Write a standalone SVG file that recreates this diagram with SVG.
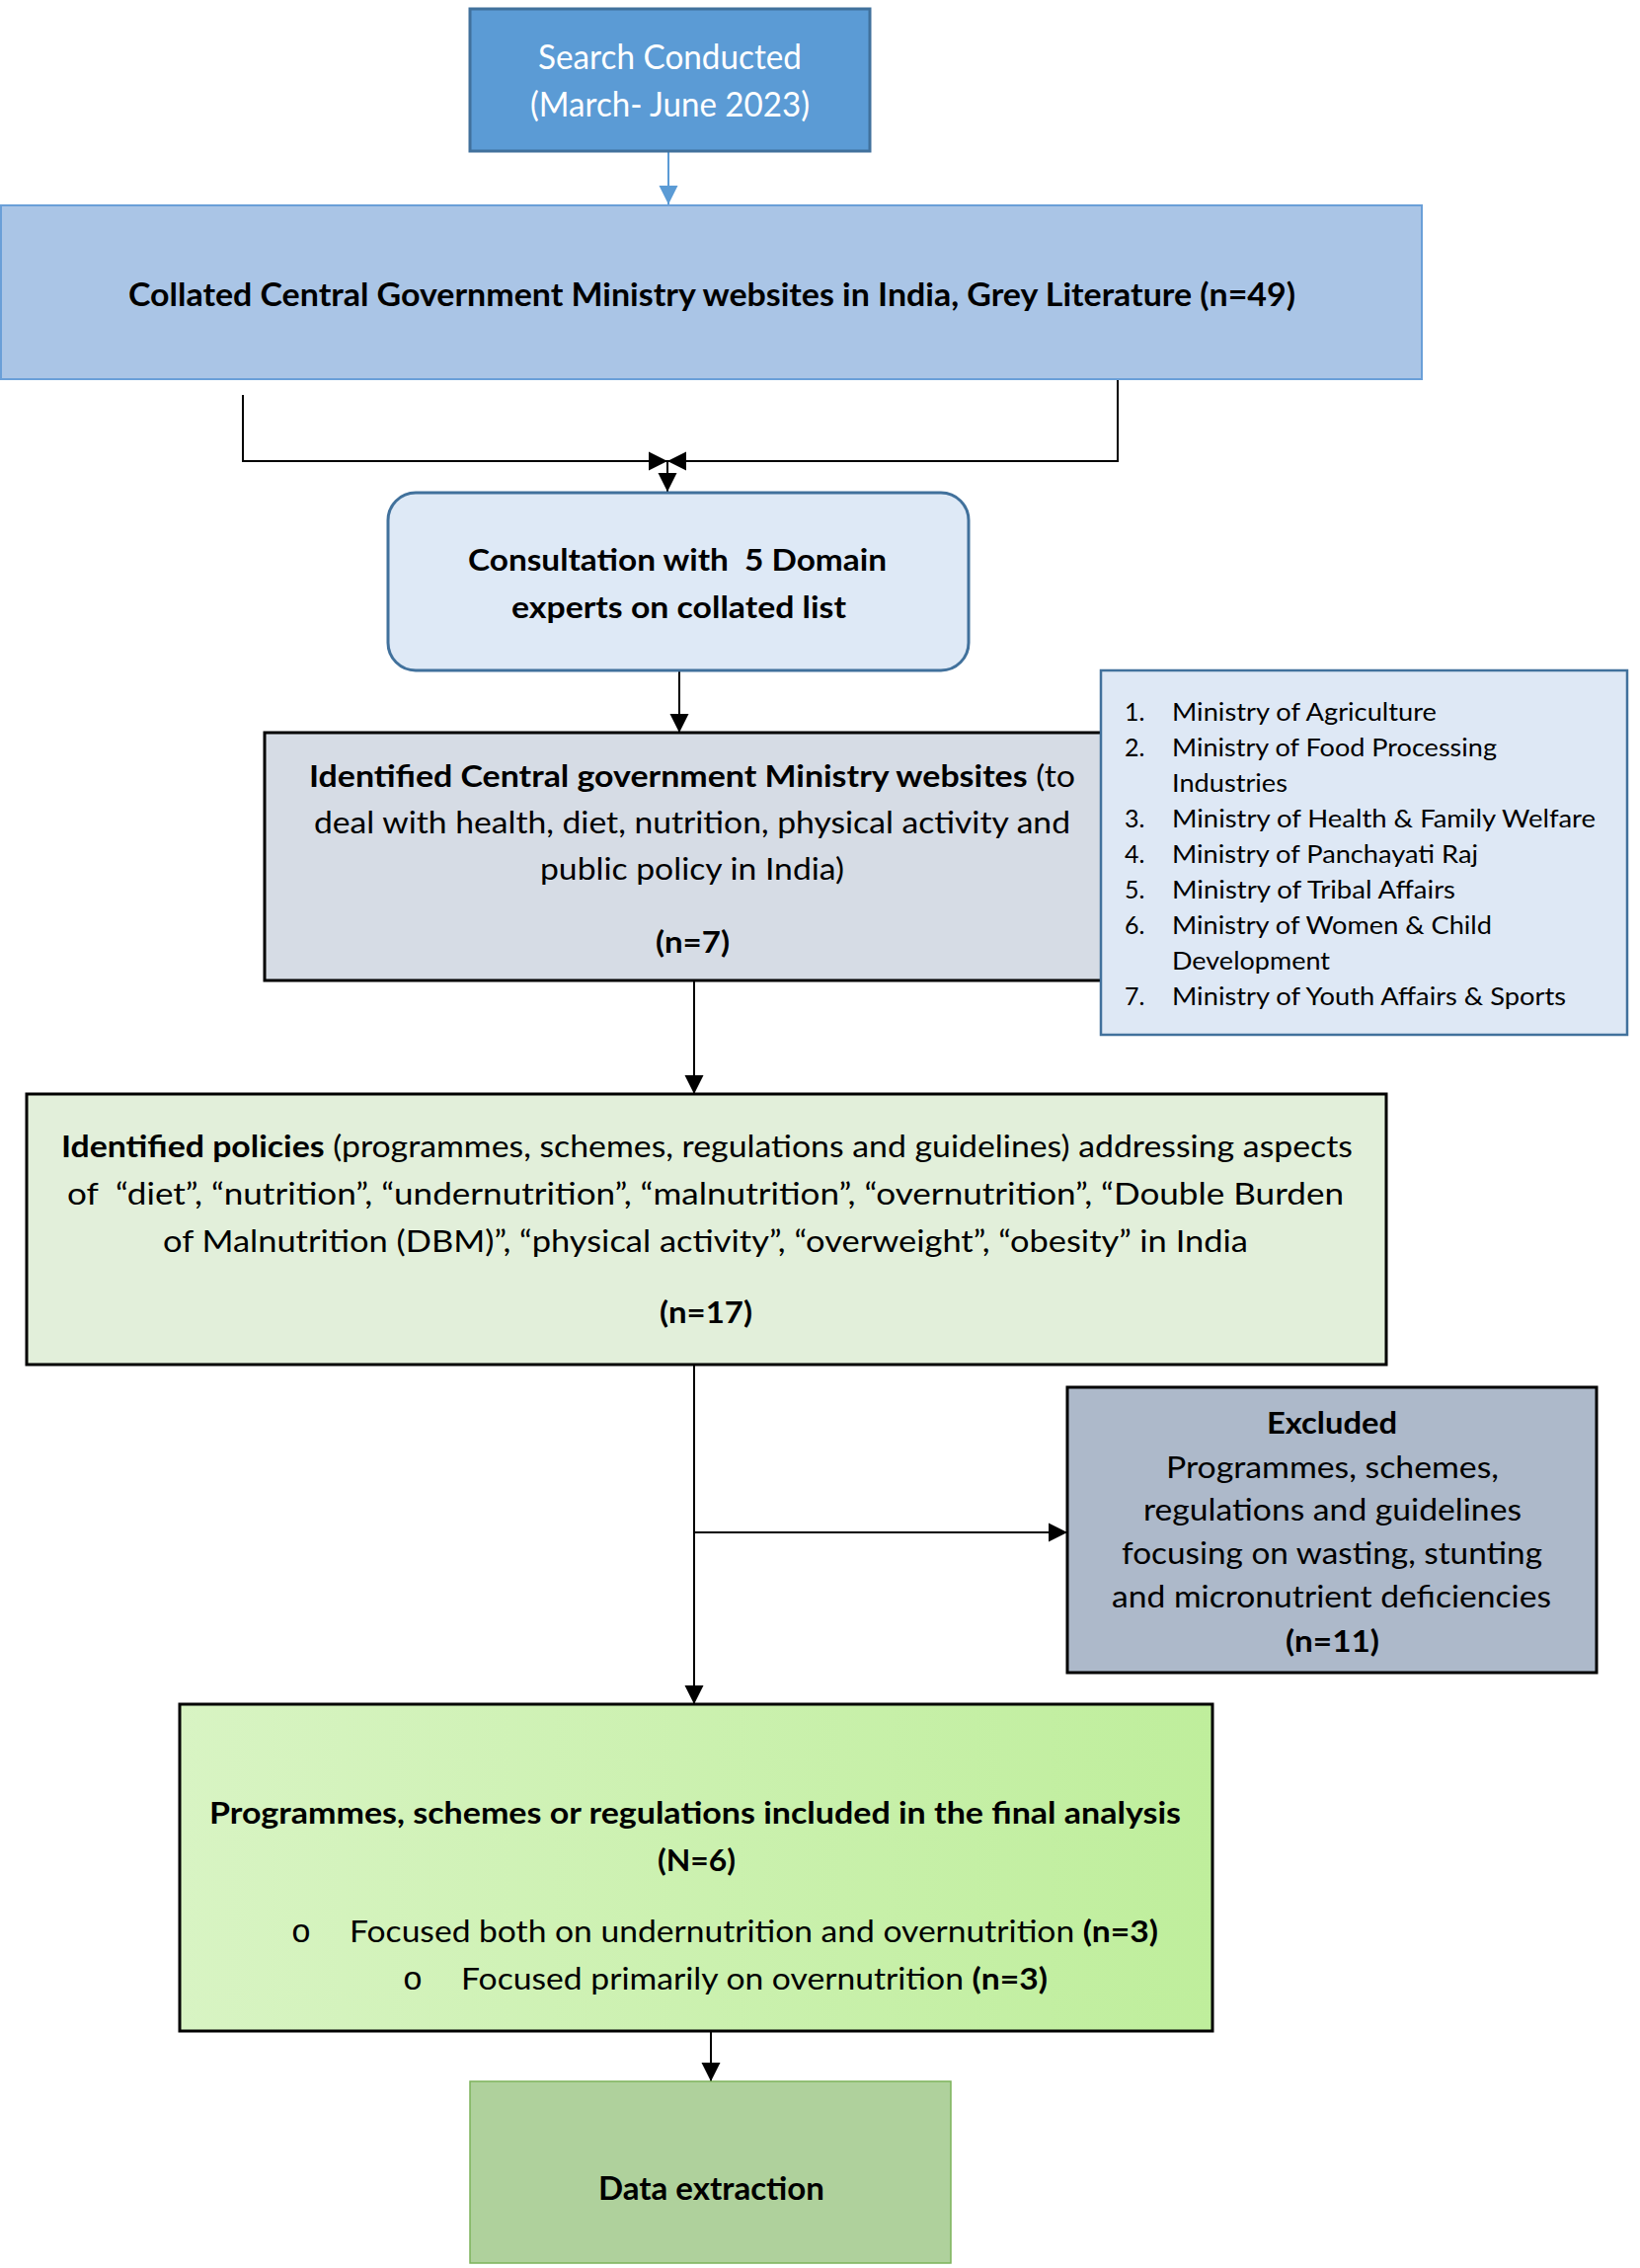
<svg xmlns="http://www.w3.org/2000/svg" width="1661" height="2297" viewBox="0 0 1661 2297">
<style>
text{font-family:Lato,"Noto Sans","Liberation Sans",sans-serif;fill:#000}
.b{font-weight:bold}
.r{font-weight:normal}
.w{fill:#fff}
.conn{fill:none;stroke:#000;stroke-width:2}
.lst{font-size:25px}
.bul{font-family:"Liberation Mono",monospace;font-size:34px}
</style>
<defs>
<marker id="ah" markerUnits="userSpaceOnUse" markerWidth="20" markerHeight="20" refX="19" refY="10" orient="auto">
<path d="M0,0.5 L19,10 L0,19.5 z" fill="#000"/>
</marker>
<marker id="ahb" markerUnits="userSpaceOnUse" markerWidth="20" markerHeight="20" refX="19" refY="10" orient="auto">
<path d="M0,0.5 L19,10 L0,19.5 z" fill="#5b9bd5"/>
</marker>
<linearGradient id="gfin" x1="0" y1="0" x2="1" y2="0">
<stop offset="0" stop-color="#d8f4c3"/>
<stop offset="1" stop-color="#bfee9c"/>
</linearGradient>
</defs>
<rect width="1661" height="2297" fill="#fff"/>

<g id="connectors">
<line x1="677" y1="153" x2="677" y2="207" stroke="#5b9bd5" stroke-width="2" marker-end="url(#ahb)"/>
<path class="conn" d="M246,400 V467 H676" marker-end="url(#ah)"/>
<path class="conn" d="M1132,384 V467 H676" marker-end="url(#ah)"/>
<line class="conn" x1="676" y1="467" x2="676" y2="498" marker-end="url(#ah)"/>
<line class="conn" x1="688" y1="679" x2="688" y2="742" marker-end="url(#ah)"/>
<line class="conn" x1="703" y1="993" x2="703" y2="1108" marker-end="url(#ah)"/>
<line class="conn" x1="703" y1="1382" x2="703" y2="1726" marker-end="url(#ah)"/>
<line class="conn" x1="703" y1="1552" x2="1081" y2="1552" marker-end="url(#ah)"/>
<line class="conn" x1="720" y1="2057" x2="720" y2="2108" marker-end="url(#ah)"/>
</g>

<g id="search">
<rect x="476" y="9" width="405" height="144" fill="#5b9bd5" stroke="#41719c" stroke-width="3"/>
<text class="r w" x="545" y="70" font-size="34" textLength="267" lengthAdjust="spacingAndGlyphs">Search Conducted</text>
<text class="r w" x="537" y="118" font-size="34" textLength="283" lengthAdjust="spacingAndGlyphs">(March- June 2023)</text>
</g>

<g id="collated">
<rect x="1" y="208" width="1439" height="176" fill="#aac5e6" stroke="#6a9fd8" stroke-width="2"/>
<text class="b" x="130" y="310" font-size="32" textLength="1182" lengthAdjust="spacingAndGlyphs">Collated Central Government Ministry websites in India, Grey Literature (n=49)</text>
</g>

<g id="consultation">
<rect x="393" y="499" width="588" height="180" rx="28" ry="28" fill="#dee9f6" stroke="#41719c" stroke-width="3"/>
<text class="b" x="474" y="578" font-size="31" textLength="424" lengthAdjust="spacingAndGlyphs" xml:space="preserve">Consultation with  5 Domain</text>
<text class="b" x="518" y="626" font-size="31" textLength="339" lengthAdjust="spacingAndGlyphs">experts on collated list</text>
</g>

<g id="identified-ministries">
<rect x="268" y="742" width="866" height="251" fill="#d6dce5" stroke="#000" stroke-width="3"/>
<text x="313" y="797" font-size="30" textLength="776" lengthAdjust="spacingAndGlyphs"><tspan class="b">Identified Central government Ministry websites</tspan><tspan class="r"> (to</tspan></text>
<text class="r" x="318" y="844" font-size="30" textLength="766" lengthAdjust="spacingAndGlyphs">deal with health, diet, nutrition, physical activity and</text>
<text class="r" x="547" y="891" font-size="30" textLength="308" lengthAdjust="spacingAndGlyphs">public policy in India)</text>
<text class="b" x="664" y="965" font-size="30" textLength="75" lengthAdjust="spacingAndGlyphs">(n=7)</text>
</g>

<g id="ministry-list">
<rect x="1115" y="679" width="533" height="369" fill="#dee8f5" stroke="#41719c" stroke-width="2.5"/>
<text class="r lst" x="1139" y="730">1.</text>
<text class="r lst" x="1187" y="730" textLength="268" lengthAdjust="spacingAndGlyphs">Ministry of Agriculture</text>
<text class="r lst" x="1139" y="766">2.</text>
<text class="r lst" x="1187" y="766" textLength="329" lengthAdjust="spacingAndGlyphs">Ministry of Food Processing</text>
<text class="r lst" x="1187" y="802" textLength="117" lengthAdjust="spacingAndGlyphs">Industries</text>
<text class="r lst" x="1139" y="838">3.</text>
<text class="r lst" x="1187" y="838" textLength="429" lengthAdjust="spacingAndGlyphs">Ministry of Health &amp; Family Welfare</text>
<text class="r lst" x="1139" y="874">4.</text>
<text class="r lst" x="1187" y="874" textLength="310" lengthAdjust="spacingAndGlyphs">Ministry of Panchayati Raj</text>
<text class="r lst" x="1139" y="910">5.</text>
<text class="r lst" x="1187" y="910" textLength="287" lengthAdjust="spacingAndGlyphs">Ministry of Tribal Affairs</text>
<text class="r lst" x="1139" y="946">6.</text>
<text class="r lst" x="1187" y="946" textLength="324" lengthAdjust="spacingAndGlyphs">Ministry of Women &amp; Child</text>
<text class="r lst" x="1187" y="982" textLength="160" lengthAdjust="spacingAndGlyphs">Development</text>
<text class="r lst" x="1139" y="1018">7.</text>
<text class="r lst" x="1187" y="1018" textLength="399" lengthAdjust="spacingAndGlyphs">Ministry of Youth Affairs &amp; Sports</text>
</g>

<g id="identified-policies">
<rect x="27" y="1108" width="1377" height="274" fill="#e2efda" stroke="#000" stroke-width="3"/>
<text x="62" y="1172" font-size="30" textLength="1308" lengthAdjust="spacingAndGlyphs"><tspan class="b">Identified policies</tspan><tspan class="r"> (programmes, schemes, regulations and guidelines) addressing aspects</tspan></text>
<text class="r" x="68" y="1220" font-size="30" textLength="1293" lengthAdjust="spacingAndGlyphs" xml:space="preserve">of  “diet”, “nutrition”, “undernutrition”, “malnutrition”, “overnutrition”, “Double Burden</text>
<text class="r" x="165" y="1268" font-size="30" textLength="1099" lengthAdjust="spacingAndGlyphs">of Malnutrition (DBM)”, “physical activity”, “overweight”, “obesity” in India</text>
<text class="b" x="668" y="1340" font-size="30" textLength="94" lengthAdjust="spacingAndGlyphs">(n=17)</text>
</g>

<g id="excluded">
<rect x="1081" y="1405" width="536" height="289" fill="#adb9ca" stroke="#000" stroke-width="3"/>
<text class="b" x="1283" y="1452" font-size="31" textLength="132" lengthAdjust="spacingAndGlyphs">Excluded</text>
<text class="r" x="1181" y="1497" font-size="31" textLength="337" lengthAdjust="spacingAndGlyphs">Programmes, schemes,</text>
<text class="r" x="1158" y="1540" font-size="31" textLength="383" lengthAdjust="spacingAndGlyphs">regulations and guidelines</text>
<text class="r" x="1136" y="1584" font-size="31" textLength="426" lengthAdjust="spacingAndGlyphs">focusing on wasting, stunting</text>
<text class="r" x="1126" y="1628" font-size="31" textLength="445" lengthAdjust="spacingAndGlyphs">and micronutrient deficiencies</text>
<text class="b" x="1302" y="1673" font-size="31" textLength="95" lengthAdjust="spacingAndGlyphs">(n=11)</text>
</g>

<g id="final-analysis">
<rect x="182" y="1726" width="1046" height="331" fill="url(#gfin)" stroke="#000" stroke-width="3"/>
<text class="b" x="212" y="1847" font-size="31" textLength="984" lengthAdjust="spacingAndGlyphs">Programmes, schemes or regulations included in the final analysis</text>
<text class="b" x="666" y="1895" font-size="31" textLength="79" lengthAdjust="spacingAndGlyphs">(N=6)</text>
<text class="bul" x="305" y="1967" text-anchor="middle">o</text>
<text x="354" y="1967" font-size="31" textLength="819" lengthAdjust="spacingAndGlyphs"><tspan class="r">Focused both on undernutrition and overnutrition </tspan><tspan class="b">(n=3)</tspan></text>
<text class="bul" x="418" y="2015" text-anchor="middle">o</text>
<text x="467" y="2015" font-size="31" textLength="594" lengthAdjust="spacingAndGlyphs"><tspan class="r">Focused primarily on overnutrition </tspan><tspan class="b">(n=3)</tspan></text>
</g>

<g id="data-extraction">
<rect x="476" y="2108" width="487" height="184" fill="#afd19c" stroke="#7cb35a" stroke-width="1.5"/>
<text class="b" x="606" y="2228" font-size="32" textLength="229" lengthAdjust="spacingAndGlyphs">Data extraction</text>
</g>
</svg>
